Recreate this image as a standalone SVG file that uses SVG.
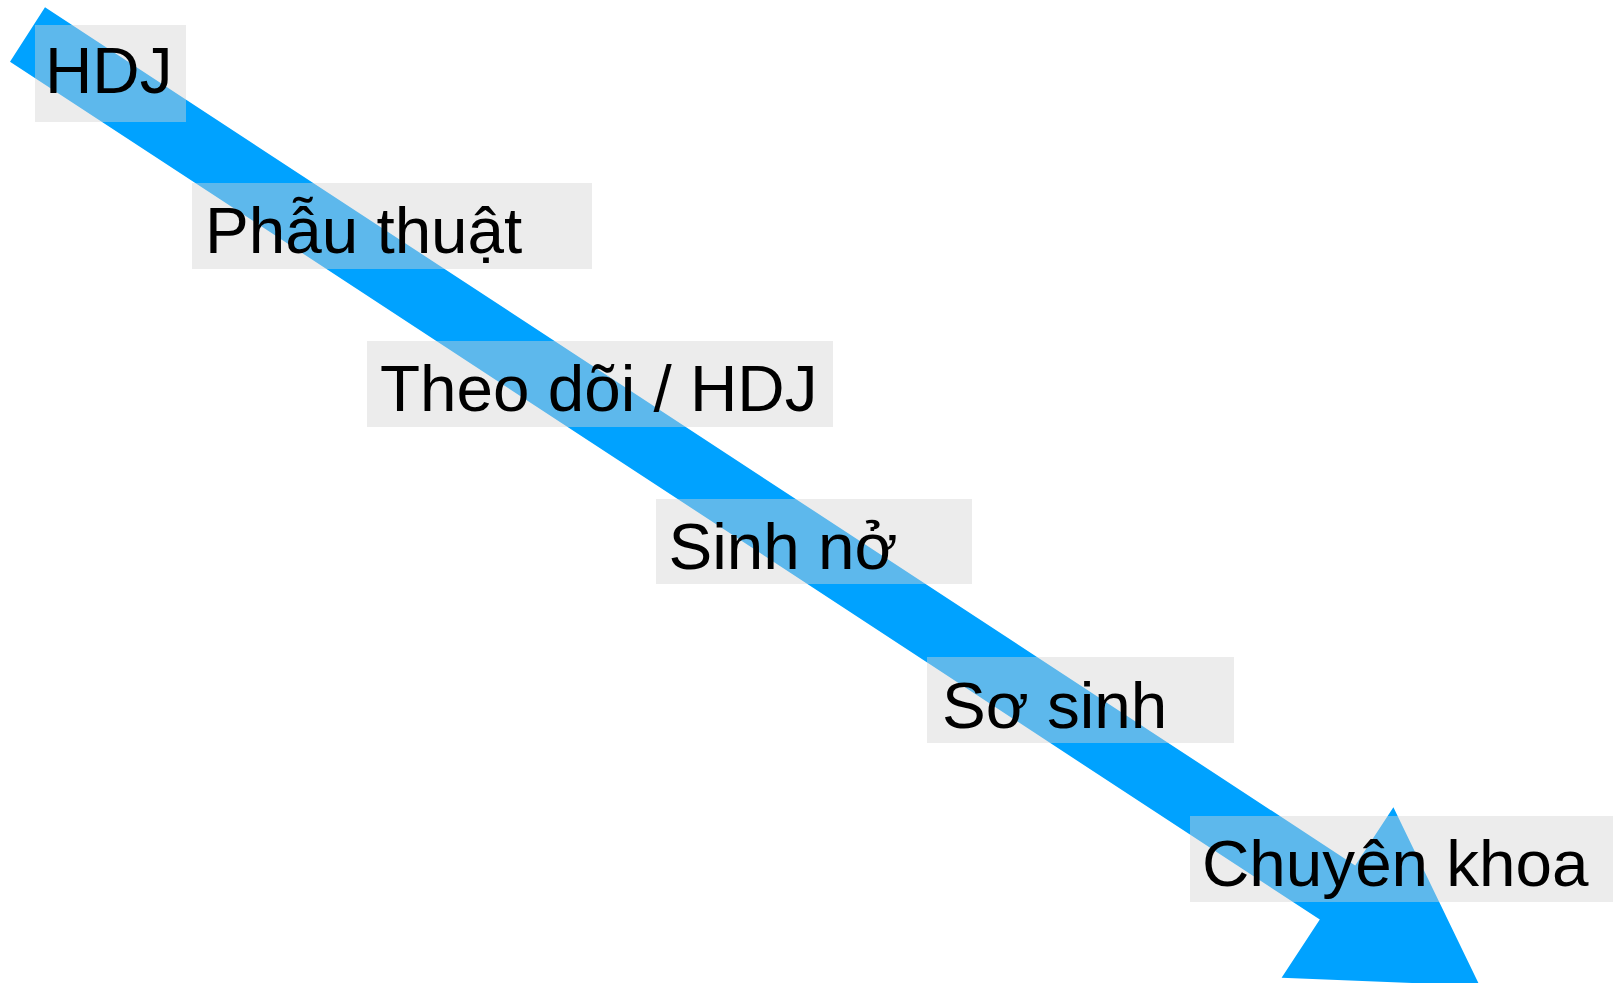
<svg xmlns="http://www.w3.org/2000/svg" width="1613" height="983" viewBox="0 0 1613 983">
<style>
.box{fill:#D3D3D3;fill-opacity:0.44}
.lbl{font-family:"Liberation Sans",Arial,sans-serif;font-size:65.6px;fill:#000}
.arrow{fill:#00A2FF}
</style>
<rect width="1613" height="983" fill="#fff"/>
<g id="connectors">
<polygon class="arrow" points="45,7.3 1355.2,865.4 1393.4,807.2 1479.7,985.7 1281.6,977.8 1319.8,919.6 10,61.7"/>
</g>
<g id="node-hdj">
<rect class="box" x="35" y="25" width="151" height="97"/>
<text class="lbl" x="45" y="93">HDJ</text>
</g>
<g id="node-phau-thuat">
<rect class="box" x="192" y="183" width="400" height="86"/>
<text class="lbl" x="205" y="253">Phẫu thuật</text>
</g>
<g id="node-theo-doi">
<rect class="box" x="367" y="341" width="466" height="86"/>
<text class="lbl" x="380" y="411">Theo dõi / HDJ</text>
</g>
<g id="node-sinh-no">
<rect class="box" x="656" y="499" width="316" height="85"/>
<text class="lbl" x="668.5" y="569">Sinh nở</text>
</g>
<g id="node-so-sinh">
<rect class="box" x="927" y="657" width="307" height="86"/>
<text class="lbl" x="942" y="728">Sơ sinh</text>
</g>
<g id="node-chuyen-khoa">
<rect class="box" x="1190" y="816" width="430" height="86"/>
<text class="lbl" x="1202" y="886">Chuyên khoa</text>
</g>
</svg>
